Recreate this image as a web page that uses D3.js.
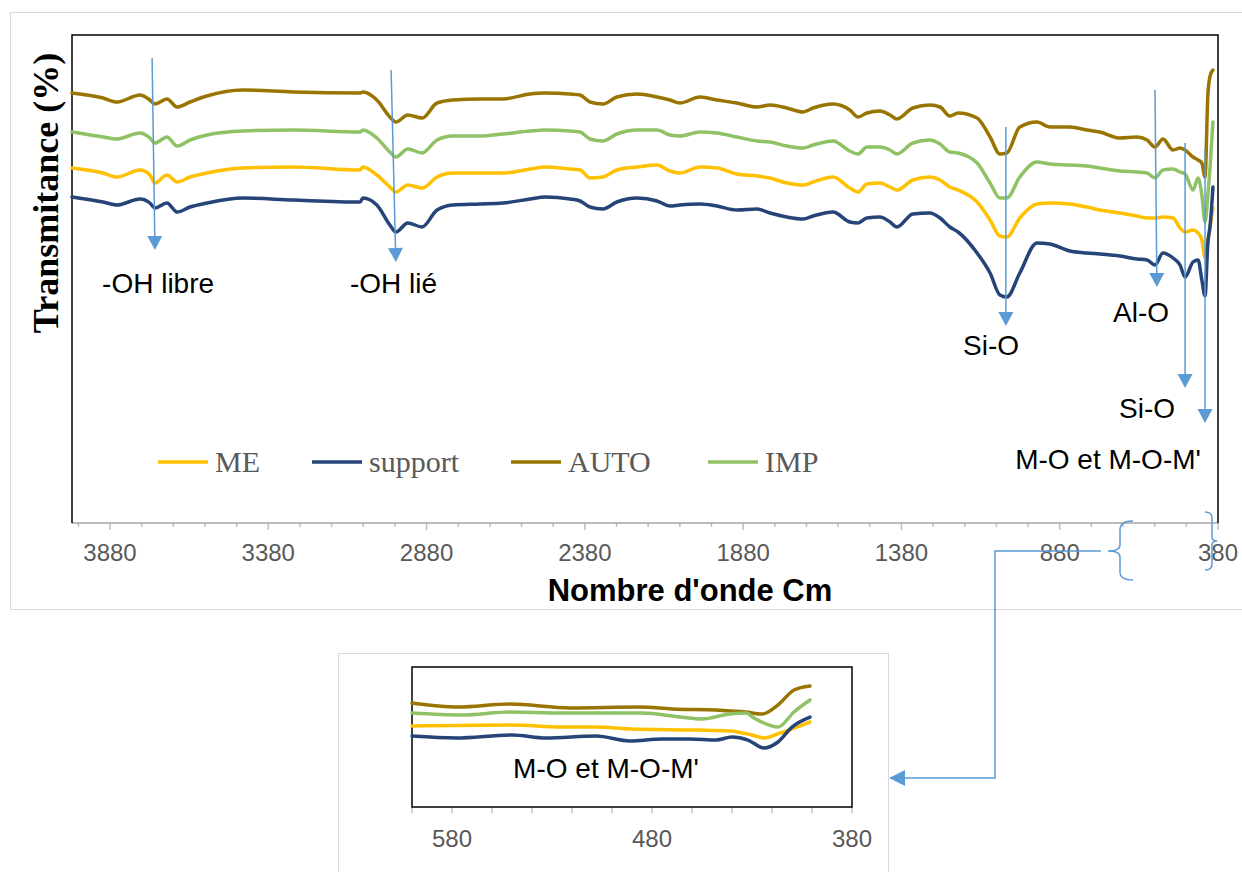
<!DOCTYPE html>
<html><head><meta charset="utf-8">
<script src="https://cdn.jsdelivr.net/npm/d3@7"></script>
<style>body{margin:0;background:#fff;} svg{display:block;}</style>
</head><body>
<svg id="chart" width="1242" height="872"></svg>
<script>
// ---------- DATA ----------
const wavenumbers = [4000,3902,3858,3785,3754,3738,3700,3668,3627,3574,
 3460,3302,3090,3081,3037,2996,2977,2939,2894,2847,
 2797,2711,2639,2553,2506,2427,2395,2364,2323,2279,
 2215,2152,2111,2080,2016,1963,1900,1836,1795,1742,
 1691,1659,1596,1543,1517,1489,1448,1416,1394,1344,
 1290,1258,1227,1201,1141,1100,1069,1047,1006,952,
 911,848,794,753,690,636,604,579,554,522,
 500,484,459,443,431,421,412,405,396];

const AUTO = [86.0,85.0,84.2,85.6,84.6,83.8,84.8,83.2,84.2,85.4,
 86.6,86.2,86.0,86.2,84.6,81.2,80.2,81.6,81.0,84.0,
 84.6,84.8,84.8,85.8,86.0,85.8,85.6,84.2,83.8,85.2,
 85.8,85.2,84.6,84.0,85.2,84.6,84.0,83.2,83.6,83.0,
 82.2,83.0,83.8,82.6,81.2,82.0,82.4,81.6,80.8,83.0,
 83.6,83.2,81.4,82.0,81.0,77.2,73.8,74.0,79.2,80.2,
 79.2,79.2,78.6,78.2,77.0,77.2,76.6,75.2,76.8,74.6,
 75.0,74.6,73.2,72.6,72.0,69.2,85.6,89.4,90.6];

const IMP = [78.2,77.2,76.8,78.0,77.0,76.0,77.2,75.4,76.6,77.6,
 78.4,78.6,78.2,78.6,77.0,74.2,73.2,74.8,74.0,76.6,
 77.4,77.4,77.8,78.4,78.6,78.4,78.2,76.8,76.4,77.8,
 78.6,78.6,77.6,77.4,78.2,78.0,77.2,76.4,76.2,75.4,
 75.0,75.6,76.4,74.4,73.8,75.2,75.2,74.6,73.8,76.0,
 76.6,75.8,74.2,74.0,72.0,68.0,65.0,65.0,69.2,72.2,
 71.8,71.6,71.4,71.0,70.4,70.2,70.0,69.0,70.6,70.8,
 70.2,69.8,66.6,69.0,65.6,60.2,65.6,71.2,80.2];

const ME = [71.0,70.0,69.2,70.6,69.6,68.0,69.6,68.2,69.2,70.0,
 71.0,71.2,70.6,71.2,69.6,67.2,66.2,67.6,67.0,69.2,
 70.0,70.0,70.0,70.8,71.2,70.8,70.6,69.0,69.2,70.6,
 71.2,71.6,70.4,70.0,71.2,71.0,69.8,69.4,69.0,68.0,
 67.6,68.2,69.2,67.0,66.2,67.8,68.0,67.2,66.6,68.6,
 69.2,68.6,67.2,66.6,64.2,60.6,57.4,57.2,61.0,63.8,
 64.0,63.8,63.2,62.6,62.0,61.4,61.0,61.0,61.2,61.0,
 59.0,58.2,58.6,58.0,56.6,53.0,56.6,59.4,63.0];

const support = [65.2,64.2,63.6,64.8,64.0,63.0,64.0,62.2,63.2,64.0,
 65.0,64.6,64.2,65.0,63.6,59.6,58.2,60.0,59.2,62.6,
 63.6,63.8,64.0,64.8,65.2,64.8,64.4,63.2,62.8,64.2,
 65.0,64.4,63.4,63.6,63.8,63.4,62.6,62.8,62.0,61.2,
 60.8,61.4,62.2,60.2,60.0,61.0,61.2,60.2,59.2,61.8,
 62.0,61.0,59.2,58.2,54.0,50.0,45.6,45.2,50.0,56.0,
 55.8,54.4,54.0,53.8,53.4,52.8,52.6,51.6,54.0,53.0,
 51.6,49.2,52.2,52.6,48.6,45.4,56.0,59.4,67.2];

// inset (zoom 600-400 cm-1) : [wavenumber, transmittance]
const insetAUTO = [[600,78.0],[577,74.9],[551,77.2],[521,74.2],[486,74.9],[470,73.4],[448,72.6],[433,71.1],[425,69.5],[417,76.5],[409,88.0],[401,91.1]];
const insetIMP = [[600,70.3],[575,68.8],[551,71.1],[525,70.3],[485,70.3],[466,67.2],[455,65.7],[441,69.5],[433,70.3],[429,66.5],[417,59.5],[409,71.1],[401,80.3]];
const insetME = [[600,60.3],[550,61.1],[525,59.5],[508,59.5],[491,58.0],[458,57.2],[441,56.5],[430,53.4],[424,51.1],[416,54.9],[401,63.4]];
const insetSupport = [[600,52.6],[578,51.1],[550,53.4],[533,51.1],[508,52.6],[491,48.8],[475,50.3],[461,50.3],[448,49.5],[440,51.8],[432,49.5],[424,43.4],[417,48.0],[410,59.5],[401,67.2]];

const seriesNames = ["ME","support","AUTO","IMP"];
const seriesColors = ["#FFC000","#264478","#9A7400","#8FC265"];
const mainTickLabels = [3880,3380,2880,2380,1880,1380,880,380];
const insetTickLabels = [580,480,380];

// annotations: arrows [wn1, v1, wn2, v2] and labels
const arrows = [[3747,93,3738,54.6],[2992,90.6,2977,52.2],[1050,79.2,1050,39.4],[579,86.6,573,47.2],[484,76,484,27],[421,74.6,421,20]];
const labels = [
  {text:"-OH libre", wn:3905, v:46, anchor:"start"},
  {text:"-OH lié", wn:3122, v:46, anchor:"start"},
  {text:"Si-O", wn:1097, v:33.6, anchor:"middle"},
  {text:"Al-O", wn:623, v:40.2, anchor:"middle"},
  {text:"Si-O", wn:604, v:21, anchor:"middle"},
  {text:"M-O et M-O-M'", wn:434, v:10.8, anchor:"end"}
];

// ---------- DRAW ----------
const svg = d3.select("#chart");
const blue = "#5B9BD5";
const L = 72, R = 1218, T = 35, B = 523;

// outer border
svg.append("rect").attr("x",10.5).attr("y",12.5).attr("width",1240).attr("height",597)
  .attr("fill","none").attr("stroke","#D9D9D9").attr("stroke-width",1);

const x = d3.scaleLinear().domain([4000,380]).range([L,R]);
const y = d3.scaleLinear().domain([0,97.6]).range([B,T]);

// x axis ticks
const ticks = d3.range(380, 4000, 100);
const gx = svg.append("g");
gx.selectAll("line.t").data(ticks).join("line")
  .attr("x1",d=>x(d)).attr("x2",d=>x(d)).attr("y1",B)
  .attr("y2",d=>((d-380)%500===0)?B+7:B+4)
  .attr("stroke","#BFBFBF").attr("stroke-width",1.5);
gx.append("line").attr("x1",L).attr("x2",R).attr("y1",B).attr("y2",B)
  .attr("stroke","#A6A6A6").attr("stroke-width",1.5);
gx.selectAll("text").data(mainTickLabels).join("text")
  .attr("x",d=>x(d)).attr("y",561).attr("text-anchor","middle")
  .attr("font-family","Liberation Sans, Arial, sans-serif").attr("font-size",24)
  .attr("fill","#595959").text(d=>d);

// frame (left, top, right)
svg.append("path").attr("d",`M${L},${B}V${T}H${R}V${B}`)
  .attr("fill","none").attr("stroke","#000").attr("stroke-width",1.5);

// series
const line = d3.line().x(d=>x(d[0])).y(d=>y(d[1])).curve(d3.curveMonotoneX);
const mainSeries = [ME, support, AUTO, IMP];
const drawOrder = [2,3,0,1];
drawOrder.forEach(i=>{
  const pts = wavenumbers.map((w,k)=>[w, mainSeries[i][k]]);
  svg.append("path").attr("d", line(pts)).attr("fill","none")
    .attr("stroke", seriesColors[i]).attr("stroke-width",3.5)
    .attr("stroke-linejoin","round").attr("stroke-linecap","round");
});

// arrows
function arrow(g, x1,y1,x2,y2){
  const ang = Math.atan2(y2-y1,x2-x1), len=14, hw=7.5;
  const bx = x2 - len*Math.cos(ang), by = y2 - len*Math.sin(ang);
  g.append("line").attr("x1",x1).attr("y1",y1).attr("x2",bx).attr("y2",by)
    .attr("stroke",blue).attr("stroke-width",1.5);
  const px = -Math.sin(ang), py = Math.cos(ang);
  g.append("path").attr("d",`M${x2},${y2}L${bx+px*hw},${by+py*hw}L${bx-px*hw},${by-py*hw}Z`)
    .attr("fill",blue);
}
const ga = svg.append("g");
arrows.forEach(a=>arrow(ga, x(a[0]), y(a[1]), x(a[2]), y(a[3])));

svg.append("g").selectAll("text").data(labels).join("text")
  .attr("x",d=>x(d.wn)).attr("y",d=>y(d.v)).attr("text-anchor",d=>d.anchor)
  .attr("font-family","Liberation Sans, Arial, sans-serif").attr("font-size",28)
  .attr("fill","#000").text(d=>d.text);

// legend
const legX = [158, 312, 511, 708];
const lg = svg.append("g");
seriesNames.forEach((n,i)=>{
  lg.append("line").attr("x1",legX[i]).attr("x2",legX[i]+50).attr("y1",462).attr("y2",462)
    .attr("stroke",seriesColors[i]).attr("stroke-width",3.5);
  lg.append("text").attr("x",legX[i]+57).attr("y",472)
    .attr("font-family","Liberation Serif, Times New Roman, serif").attr("font-size",30)
    .attr("fill","#595959").text(n);
});

// axis titles
svg.append("text").attr("transform","translate(58,193) rotate(-90)")
  .attr("text-anchor","middle").attr("font-family","Liberation Serif, Times New Roman, serif")
  .attr("font-weight","bold").attr("font-size",36).attr("fill","#000").text("Transmitance (%)");
svg.append("text").attr("x",690).attr("y",601).attr("text-anchor","middle")
  .attr("font-family","Liberation Sans, Arial, sans-serif").attr("font-weight","bold")
  .attr("font-size",31).attr("fill","#000").text("Nombre d'onde Cm");

// braces and connector
svg.append("path").attr("d","M1133,521 Q1120,521 1120,530 L1120,545 Q1120,551 1108,551 Q1120,551 1120,557 L1120,572 Q1120,580 1133,580")
  .attr("fill","none").attr("stroke",blue).attr("stroke-width",1.5);
svg.append("path").attr("d","M1205,512 Q1212,512 1212,518 L1212,537 Q1212,541 1217,541 Q1212,541 1212,545 L1212,564 Q1212,570 1205,570")
  .attr("fill","none").attr("stroke",blue).attr("stroke-width",1.5);
svg.append("path").attr("d","M1101,551 H995 V778 H904").attr("fill","none")
  .attr("stroke",blue).attr("stroke-width",1.5);
svg.append("path").attr("d","M889,778 L905,770 L905,786 Z").attr("fill",blue);

// ---------- INSET ----------
const iL=412, iR=852, iT=667, iB=807;
svg.append("rect").attr("x",338.5).attr("y",653.5).attr("width",550).attr("height",240)
  .attr("fill","#fff").attr("stroke","#D9D9D9").attr("stroke-width",1);
const xi = d3.scaleLinear().domain([600,380]).range([iL,iR]);
const yi = d3.scaleLinear().domain([-2,105.7]).range([iB,iT]);
const iticks = d3.range(380, 601, 20);
svg.append("g").selectAll("line").data(iticks).join("line")
  .attr("x1",d=>xi(d)).attr("x2",d=>xi(d)).attr("y1",iB).attr("y2",iB+6)
  .attr("stroke","#BFBFBF").attr("stroke-width",1.5);
svg.append("g").selectAll("text").data(insetTickLabels).join("text")
  .attr("x",d=>xi(d)).attr("y",847).attr("text-anchor","middle")
  .attr("font-family","Liberation Sans, Arial, sans-serif").attr("font-size",24)
  .attr("fill","#595959").text(d=>d);
svg.append("rect").attr("x",iL).attr("y",iT).attr("width",iR-iL).attr("height",iB-iT)
  .attr("fill","none").attr("stroke","#000").attr("stroke-width",1.5);
const iline = d3.line().x(d=>xi(d[0])).y(d=>yi(d[1])).curve(d3.curveMonotoneX);
const insetSeries = [insetME, insetSupport, insetAUTO, insetIMP];
drawOrder.forEach(i=>{
  svg.append("path").attr("d", iline(insetSeries[i])).attr("fill","none")
    .attr("stroke", seriesColors[i]).attr("stroke-width",3.5)
    .attr("stroke-linejoin","round").attr("stroke-linecap","round");
});
svg.append("text").attr("x",xi(503)).attr("y",778).attr("text-anchor","middle")
  .attr("font-family","Liberation Sans, Arial, sans-serif").attr("font-size",28)
  .attr("fill","#000").text("M-O et M-O-M'");
</script>
</body></html>
